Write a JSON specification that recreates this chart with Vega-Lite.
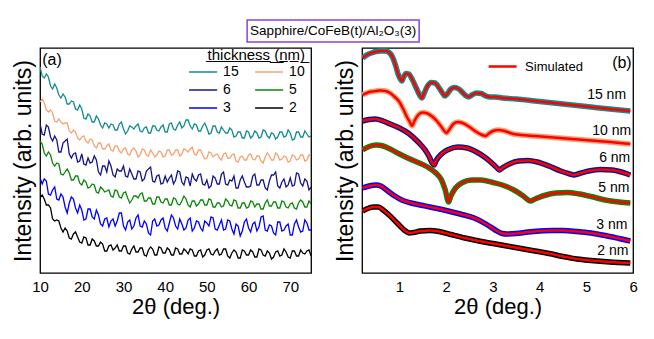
{
  "$schema": "https://vega.github.io/schema/vega-lite/v6.json",
  "padding": {"left": 11, "top": 19, "right": 5, "bottom": 5},
  "config": {
    "font": "Liberation Sans",
    "view": {"stroke": "#000000", "strokeWidth": 1.3},
    "axis": {"grid": false, "domain": false, "ticks": false, "tickSize": 0, "labelFontSize": 15, "labelColor": "#000000", "titleColor": "#000000", "titleFontWeight": "normal", "labelFont": "Liberation Sans", "titleFont": "Liberation Sans"},
    "legend": {"labelFont": "Liberation Sans", "titleFont": "Liberation Sans", "labelColor": "#000000", "titleColor": "#000000"},
    "text": {"font": "Liberation Sans", "color": "#000000"},
    "rule": {"color": "#000000", "strokeWidth": 1}
  },
  "datasets": {
    "xrd": [
      {"x":10,"15":206,"10":171,"6":149,"5":132,"3":95,"2":75},
      {"x":11,"15":195,"10":170,"6":138,"5":120,"3":94,"2":74},
      {"x":12,"15":196,"10":161,"6":146,"5":121,"3":79,"2":68},
      {"x":13,"15":184,"10":160,"6":132,"5":110,"3":83,"2":54},
      {"x":14,"15":185,"10":151,"6":133,"5":110,"3":74,"2":53},
      {"x":15,"15":175,"10":151,"6":121,"5":99,"3":79,"2":45},
      {"x":16,"15":176,"10":150,"6":132,"5":101,"3":66,"2":45},
      {"x":17,"15":169,"10":142,"6":119,"5":100,"3":70,"2":35},
      {"x":18,"15":171,"10":143,"6":119,"5":93,"3":74,"2":39},
      {"x":19,"15":163,"10":135,"6":111,"5":97,"3":60,"2":36},
      {"x":20,"15":164,"10":136,"6":119,"5":88,"3":63,"2":30},
      {"x":21,"15":154,"10":132,"6":108,"5":91,"3":54,"2":35},
      {"x":22,"15":157,"10":134,"6":110,"5":86,"3":64,"2":28},
      {"x":23,"15":151,"10":127,"6":117,"5":88,"3":54,"2":32},
      {"x":24,"15":154,"10":130,"6":101,"5":80,"3":58,"2":27},
      {"x":25,"15":145,"10":124,"6":107,"5":84,"3":47,"2":29},
      {"x":26,"15":149,"10":127,"6":101,"5":82,"3":55,"2":22},
      {"x":27,"15":149,"10":123,"6":107,"5":77,"3":52,"2":28},
      {"x":28,"15":143,"10":127,"6":96,"5":83,"3":47,"2":25},
      {"x":29,"15":149,"10":122,"6":102,"5":76,"3":60,"2":22},
      {"x":30,"15":144,"10":124,"6":107,"5":80,"3":47,"2":27},
      {"x":31,"15":142,"10":119,"6":96,"5":75,"3":51,"2":20},
      {"x":32,"15":146,"10":123,"6":99,"5":73,"3":44,"2":24},
      {"x":33,"15":147,"10":122,"6":94,"5":77,"3":55,"2":21},
      {"x":34,"15":142,"10":118,"6":101,"5":79,"3":47,"2":25},
      {"x":35,"15":145,"10":123,"6":94,"5":72,"3":52,"2":18},
      {"x":36,"15":140,"10":117,"6":104,"5":75,"3":40,"2":23},
      {"x":37,"15":147,"10":120,"6":92,"5":69,"3":52,"2":24},
      {"x":38,"15":143,"10":118,"6":97,"5":76,"3":47,"2":18},
      {"x":39,"15":146,"10":121,"6":89,"5":71,"3":53,"2":25},
      {"x":40,"15":141,"10":117,"6":97,"5":74,"3":45,"2":20},
      {"x":41,"15":149,"10":123,"6":95,"5":68,"3":50,"2":23},
      {"x":42,"15":144,"10":119,"6":89,"5":75,"3":55,"2":18},
      {"x":43,"15":148,"10":123,"6":102,"5":69,"3":44,"2":24},
      {"x":44,"15":145,"10":119,"6":91,"5":72,"3":49,"2":19},
      {"x":45,"15":153,"10":123,"6":96,"5":74,"3":45,"2":22},
      {"x":46,"15":147,"10":124,"6":87,"5":66,"3":55,"2":24},
      {"x":47,"15":149,"10":119,"6":94,"5":72,"3":45,"2":17},
      {"x":48,"15":142,"10":123,"6":98,"5":69,"3":51,"2":22},
      {"x":49,"15":147,"10":118,"6":89,"5":73,"3":42,"2":16},
      {"x":50,"15":145,"10":115,"6":93,"5":68,"3":50,"2":23},
      {"x":51,"15":140,"10":120,"6":87,"5":73,"3":56,"2":19},
      {"x":52,"15":147,"10":118,"6":95,"5":66,"3":44,"2":22},
      {"x":53,"15":140,"10":115,"6":89,"5":70,"3":48,"2":18},
      {"x":54,"15":143,"10":119,"6":101,"5":67,"3":43,"2":24},
      {"x":55,"15":140,"10":115,"6":88,"5":72,"3":53,"2":17},
      {"x":56,"15":143,"10":118,"6":92,"5":67,"3":44,"2":20},
      {"x":57,"15":137,"10":112,"6":85,"5":72,"3":49,"2":21},
      {"x":58,"15":141,"10":116,"6":93,"5":65,"3":37,"2":15},
      {"x":59,"15":135,"10":113,"6":91,"5":70,"3":51,"2":22},
      {"x":60,"15":141,"10":118,"6":86,"5":66,"3":45,"2":18},
      {"x":61,"15":137,"10":114,"6":97,"5":71,"3":49,"2":21},
      {"x":62,"15":140,"10":117,"6":88,"5":69,"3":42,"2":16},
      {"x":63,"15":136,"10":112,"6":93,"5":64,"3":56,"2":23},
      {"x":64,"15":142,"10":116,"6":85,"5":70,"3":43,"2":17},
      {"x":65,"15":135,"10":117,"6":92,"5":67,"3":48,"2":20},
      {"x":66,"15":139,"10":113,"6":98,"5":71,"3":40,"2":16},
      {"x":67,"15":136,"10":118,"6":87,"5":65,"3":51,"2":22},
      {"x":68,"15":141,"10":114,"6":91,"5":72,"3":42,"2":18},
      {"x":69,"15":137,"10":116,"6":86,"5":66,"3":47,"2":21},
      {"x":70,"15":140,"10":112,"6":95,"5":69,"3":38,"2":15},
      {"x":71,"15":134,"10":117,"6":88,"5":65,"3":49,"2":22},
      {"x":72,"15":141,"10":114,"6":99,"5":70,"3":46,"2":17},
      {"x":73,"15":136,"10":118,"6":87,"5":71,"3":42,"2":20},
      {"x":74,"15":139,"10":113,"6":92,"5":66,"3":50,"2":22},
      {"x":75,"15":137,"10":116,"6":86,"5":69,"3":43,"2":17},
      {"x":10.5,"15":197,"10":174,"6":139,"5":129,"3":89,"2":78},
      {"x":11.5,"15":199,"10":163,"6":148,"5":117,"3":92,"2":68},
      {"x":12.5,"15":187,"10":163,"6":136,"5":118,"3":78,"2":65},
      {"x":13.5,"15":189,"10":152,"6":137,"5":107,"3":86,"2":52},
      {"x":14.5,"15":178,"10":154,"6":121,"5":109,"3":73,"2":52},
      {"x":15.5,"15":179,"10":149,"6":130,"5":98,"3":76,"2":41},
      {"x":16.5,"15":169,"10":150,"6":134,"5":104,"3":60,"2":42},
      {"x":17.5,"15":172,"10":140,"6":115,"5":93,"3":76,"2":34},
      {"x":18.5,"15":164,"10":141,"6":120,"5":97,"3":65,"2":41},
      {"x":19.5,"15":168,"10":133,"6":112,"5":90,"3":68,"2":31},
      {"x":20.5,"15":155,"10":137,"6":109,"5":93,"3":53,"2":36},
      {"x":21.5,"15":159,"10":130,"6":115,"5":85,"3":64,"2":28},
      {"x":22.5,"15":151,"10":133,"6":111,"5":89,"3":56,"2":34},
      {"x":23.5,"15":157,"10":125,"6":113,"5":81,"3":63,"2":27},
      {"x":24.5,"15":148,"10":130,"6":98,"5":86,"3":49,"2":31},
      {"x":25.5,"15":150,"10":124,"6":107,"5":81,"3":54,"2":22},
      {"x":26.5,"15":145,"10":129,"6":112,"5":83,"3":46,"2":27},
      {"x":27.5,"15":148,"10":122,"6":98,"5":76,"3":54,"2":23},
      {"x":28.5,"15":143,"10":127,"6":104,"5":82,"3":52,"2":28},
      {"x":29.5,"15":151,"10":120,"6":102,"5":75,"3":60,"2":22},
      {"x":30.5,"15":139,"10":125,"6":97,"5":81,"3":43,"2":27},
      {"x":31.5,"15":147,"10":118,"6":104,"5":70,"3":53,"2":19},
      {"x":32.5,"15":144,"10":125,"6":94,"5":77,"3":47,"2":27},
      {"x":33.5,"15":149,"10":116,"6":102,"5":75,"3":58,"2":21},
      {"x":34.5,"15":141,"10":124,"6":92,"5":80,"3":46,"2":25},
      {"x":35.5,"15":146,"10":118,"6":102,"5":72,"3":49,"2":17},
      {"x":36.5,"15":140,"10":123,"6":106,"5":75,"3":38,"2":26},
      {"x":37.5,"15":147,"10":116,"6":91,"5":69,"3":54,"2":18},
      {"x":38.5,"15":142,"10":122,"6":98,"5":76,"3":48,"2":26},
      {"x":39.5,"15":148,"10":116,"6":90,"5":70,"3":55,"2":20},
      {"x":40.5,"15":141,"10":123,"6":91,"5":74,"3":42,"2":25},
      {"x":41.5,"15":150,"10":118,"6":98,"5":68,"3":58,"2":18},
      {"x":42.5,"15":143,"10":123,"6":93,"5":74,"3":47,"2":25},
      {"x":43.5,"15":151,"10":117,"6":101,"5":68,"3":54,"2":19},
      {"x":44.5,"15":147,"10":124,"6":88,"5":77,"3":43,"2":24},
      {"x":45.5,"15":153,"10":121,"6":95,"5":68,"3":53,"2":19},
      {"x":46.5,"15":144,"10":126,"6":99,"5":72,"3":42,"2":23},
      {"x":47.5,"15":148,"10":118,"6":92,"5":67,"3":52,"2":17},
      {"x":48.5,"15":142,"10":123,"6":99,"5":73,"3":45,"2":23},
      {"x":49.5,"15":150,"10":114,"6":88,"5":68,"3":52,"2":18},
      {"x":50.5,"15":139,"10":121,"6":85,"5":74,"3":47,"2":24},
      {"x":51.5,"15":147,"10":116,"6":97,"5":66,"3":55,"2":18},
      {"x":52.5,"15":141,"10":119,"6":89,"5":70,"3":43,"2":24},
      {"x":53.5,"15":146,"10":113,"6":99,"5":66,"3":53,"2":19},
      {"x":54.5,"15":140,"10":120,"6":89,"5":74,"3":44,"2":24},
      {"x":55.5,"15":145,"10":115,"6":93,"5":68,"3":52,"2":15},
      {"x":56.5,"15":136,"10":119,"6":97,"5":73,"3":39,"2":23},
      {"x":57.5,"15":141,"10":111,"6":85,"5":65,"3":47,"2":15},
      {"x":58.5,"15":135,"10":117,"6":97,"5":70,"3":42,"2":23},
      {"x":59.5,"15":142,"10":113,"6":86,"5":65,"3":54,"2":18},
      {"x":60.5,"15":135,"10":119,"6":87,"5":72,"3":41,"2":23},
      {"x":61.5,"15":142,"10":113,"6":99,"5":66,"3":51,"2":16},
      {"x":62.5,"15":135,"10":117,"6":88,"5":69,"3":46,"2":24},
      {"x":63.5,"15":143,"10":110,"6":93,"5":64,"3":57,"2":18},
      {"x":64.5,"15":137,"10":120,"6":83,"5":73,"3":42,"2":22},
      {"x":65.5,"15":140,"10":113,"6":98,"5":67,"3":47,"2":14},
      {"x":66.5,"15":134,"10":120,"6":101,"5":71,"3":38,"2":21},
      {"x":67.5,"15":141,"10":113,"6":85,"5":65,"3":51,"2":17},
      {"x":68.5,"15":136,"10":117,"6":94,"5":71,"3":43,"2":24},
      {"x":69.5,"15":143,"10":111,"6":88,"5":65,"3":49,"2":16},
      {"x":70.5,"15":133,"10":118,"6":87,"5":70,"3":38,"2":22},
      {"x":71.5,"15":141,"10":113,"6":100,"5":64,"3":53,"2":17},
      {"x":72.5,"15":136,"10":118,"6":90,"5":73,"3":41,"2":23},
      {"x":73.5,"15":142,"10":112,"6":94,"5":66,"3":53,"2":19},
      {"x":74.5,"15":136,"10":118,"6":83,"5":72,"3":43,"2":23}
    ],
    "xrr": [
      {"t":"15","x":0.21,"y":215},{"t":"15","x":0.3,"y":218},{"t":"15","x":0.4,"y":220},{"t":"15","x":0.5,"y":221.5},{"t":"15","x":0.6,"y":222},{"t":"15","x":0.7,"y":222},{"t":"15","x":0.78,"y":220.5},{"t":"15","x":0.85,"y":216},{"t":"15","x":0.92,"y":207},{"t":"15","x":0.97,"y":199},{"t":"15","x":1.02,"y":194},{"t":"15","x":1.05,"y":192},{"t":"15","x":1.09,"y":196},{"t":"15","x":1.14,"y":199.5},{"t":"15","x":1.2,"y":199},{"t":"15","x":1.28,"y":193},{"t":"15","x":1.36,"y":185},{"t":"15","x":1.43,"y":178},{"t":"15","x":1.48,"y":175},{"t":"15","x":1.53,"y":180},{"t":"15","x":1.6,"y":187},{"t":"15","x":1.68,"y":190.5},{"t":"15","x":1.76,"y":190},{"t":"15","x":1.85,"y":185},{"t":"15","x":1.92,"y":180},{"t":"15","x":1.97,"y":177},{"t":"15","x":2.02,"y":179},{"t":"15","x":2.1,"y":184},{"t":"15","x":2.18,"y":185.5},{"t":"15","x":2.27,"y":184},{"t":"15","x":2.36,"y":180},{"t":"15","x":2.43,"y":177},{"t":"15","x":2.48,"y":176},{"t":"15","x":2.55,"y":178},{"t":"15","x":2.65,"y":180},{"t":"15","x":2.75,"y":179.5},{"t":"15","x":2.85,"y":177},{"t":"15","x":2.94,"y":176},{"t":"15","x":3.05,"y":176},{"t":"15","x":3.2,"y":175},{"t":"15","x":3.5,"y":174},{"t":"15","x":3.9,"y":172},{"t":"15","x":4.3,"y":170},{"t":"15","x":4.7,"y":168},{"t":"15","x":5.1,"y":166},{"t":"15","x":5.5,"y":164},{"t":"15","x":5.94,"y":162},
      {"t":"10","x":0.21,"y":178},{"t":"10","x":0.3,"y":180},{"t":"10","x":0.4,"y":181.5},{"t":"10","x":0.5,"y":182},{"t":"10","x":0.6,"y":182.5},{"t":"10","x":0.7,"y":182},{"t":"10","x":0.8,"y":180},{"t":"10","x":0.9,"y":176},{"t":"10","x":1.0,"y":171},{"t":"10","x":1.08,"y":164},{"t":"10","x":1.16,"y":156},{"t":"10","x":1.22,"y":151},{"t":"10","x":1.27,"y":147},{"t":"10","x":1.32,"y":152},{"t":"10","x":1.4,"y":158},{"t":"10","x":1.49,"y":160.5},{"t":"10","x":1.6,"y":159.5},{"t":"10","x":1.7,"y":156.5},{"t":"10","x":1.8,"y":152},{"t":"10","x":1.9,"y":146},{"t":"10","x":1.96,"y":142},{"t":"10","x":2.01,"y":140},{"t":"10","x":2.06,"y":143},{"t":"10","x":2.15,"y":149},{"t":"10","x":2.25,"y":151},{"t":"10","x":2.35,"y":150},{"t":"10","x":2.5,"y":146},{"t":"10","x":2.65,"y":141},{"t":"10","x":2.77,"y":138},{"t":"10","x":2.84,"y":137},{"t":"10","x":2.9,"y":139},{"t":"10","x":3.0,"y":142},{"t":"10","x":3.12,"y":143},{"t":"10","x":3.25,"y":142},{"t":"10","x":3.4,"y":139.5},{"t":"10","x":3.6,"y":138},{"t":"10","x":3.9,"y":137},{"t":"10","x":4.3,"y":135.5},{"t":"10","x":4.7,"y":134},{"t":"10","x":5.1,"y":132.5},{"t":"10","x":5.5,"y":131},{"t":"10","x":5.94,"y":129},
      {"t":"6","x":0.21,"y":152},{"t":"6","x":0.35,"y":153.5},{"t":"6","x":0.48,"y":154},{"t":"6","x":0.65,"y":152},{"t":"6","x":0.8,"y":149},{"t":"6","x":1.0,"y":145},{"t":"6","x":1.2,"y":139.5},{"t":"6","x":1.4,"y":131},{"t":"6","x":1.55,"y":123},{"t":"6","x":1.64,"y":116},{"t":"6","x":1.7,"y":110},{"t":"6","x":1.74,"y":108},{"t":"6","x":1.78,"y":112},{"t":"6","x":1.9,"y":119},{"t":"6","x":2.05,"y":123.5},{"t":"6","x":2.25,"y":126},{"t":"6","x":2.45,"y":125},{"t":"6","x":2.65,"y":121},{"t":"6","x":2.85,"y":115},{"t":"6","x":3.0,"y":109},{"t":"6","x":3.1,"y":104.5},{"t":"6","x":3.14,"y":103},{"t":"6","x":3.2,"y":105},{"t":"6","x":3.35,"y":109},{"t":"6","x":3.55,"y":112},{"t":"6","x":3.75,"y":112.5},{"t":"6","x":3.95,"y":111},{"t":"6","x":4.2,"y":107},{"t":"6","x":4.45,"y":102},{"t":"6","x":4.65,"y":99},{"t":"6","x":4.73,"y":98},{"t":"6","x":4.85,"y":99.5},{"t":"6","x":5.05,"y":102},{"t":"6","x":5.3,"y":103.5},{"t":"6","x":5.55,"y":103},{"t":"6","x":5.75,"y":101},{"t":"6","x":5.94,"y":98},
      {"t":"5","x":0.21,"y":123},{"t":"5","x":0.35,"y":126.5},{"t":"5","x":0.5,"y":128},{"t":"5","x":0.65,"y":127},{"t":"5","x":0.8,"y":124},{"t":"5","x":1.0,"y":119},{"t":"5","x":1.2,"y":114.5},{"t":"5","x":1.4,"y":110.5},{"t":"5","x":1.6,"y":106},{"t":"5","x":1.78,"y":100},{"t":"5","x":1.9,"y":93},{"t":"5","x":1.98,"y":83},{"t":"5","x":2.05,"y":71},{"t":"5","x":2.1,"y":77},{"t":"5","x":2.2,"y":85},{"t":"5","x":2.35,"y":90.5},{"t":"5","x":2.55,"y":93},{"t":"5","x":2.75,"y":93},{"t":"5","x":3.0,"y":90.5},{"t":"5","x":3.2,"y":88},{"t":"5","x":3.45,"y":83},{"t":"5","x":3.65,"y":77},{"t":"5","x":3.8,"y":72},{"t":"5","x":3.9,"y":74},{"t":"5","x":4.1,"y":77.5},{"t":"5","x":4.35,"y":80},{"t":"5","x":4.6,"y":80.5},{"t":"5","x":4.85,"y":79},{"t":"5","x":5.1,"y":76.5},{"t":"5","x":5.4,"y":73},{"t":"5","x":5.7,"y":71},{"t":"5","x":5.94,"y":70},
      {"t":"3","x":0.21,"y":85},{"t":"3","x":0.35,"y":87},{"t":"3","x":0.5,"y":88},{"t":"3","x":0.6,"y":87},{"t":"3","x":0.75,"y":82},{"t":"3","x":0.9,"y":77},{"t":"3","x":1.05,"y":73},{"t":"3","x":1.25,"y":70},{"t":"3","x":1.5,"y":67.5},{"t":"3","x":1.75,"y":65},{"t":"3","x":2.0,"y":62.5},{"t":"3","x":2.3,"y":59},{"t":"3","x":2.6,"y":55},{"t":"3","x":2.85,"y":49},{"t":"3","x":3.05,"y":43},{"t":"3","x":3.2,"y":39.5},{"t":"3","x":3.3,"y":39},{"t":"3","x":3.5,"y":39.5},{"t":"3","x":3.75,"y":41},{"t":"3","x":4.0,"y":42},{"t":"3","x":4.25,"y":42.5},{"t":"3","x":4.5,"y":42.5},{"t":"3","x":4.8,"y":41.5},{"t":"3","x":5.1,"y":40},{"t":"3","x":5.4,"y":37.5},{"t":"3","x":5.7,"y":34.5},{"t":"3","x":5.94,"y":32},
      {"t":"2","x":0.21,"y":62},{"t":"2","x":0.35,"y":65},{"t":"2","x":0.45,"y":66},{"t":"2","x":0.55,"y":66},{"t":"2","x":0.65,"y":63},{"t":"2","x":0.8,"y":57},{"t":"2","x":0.95,"y":50},{"t":"2","x":1.1,"y":43},{"t":"2","x":1.22,"y":40},{"t":"2","x":1.3,"y":40.5},{"t":"2","x":1.45,"y":42},{"t":"2","x":1.65,"y":42.5},{"t":"2","x":1.85,"y":41.5},{"t":"2","x":2.1,"y":38.5},{"t":"2","x":2.4,"y":35},{"t":"2","x":2.7,"y":32},{"t":"2","x":3.0,"y":29.5},{"t":"2","x":3.3,"y":27},{"t":"2","x":3.6,"y":24.5},{"t":"2","x":3.9,"y":22},{"t":"2","x":4.2,"y":19.5},{"t":"2","x":4.5,"y":16.5},{"t":"2","x":4.8,"y":14},{"t":"2","x":5.1,"y":12.5},{"t":"2","x":5.5,"y":11},{"t":"2","x":5.94,"y":10}
    ]
  },
  "spacing": 4,
  "center": true,
  "vconcat": [
    {
      "width": 172,
      "height": 22,
      "view": {"stroke": "#8a3fe0", "strokeWidth": 1.5},
      "data": {"values": [{"title": "Sapphire/CoFeB(t)/Al₂O₃(3)", "v": 0.5}]},
      "mark": {"type": "text", "fontSize": 13.5, "baseline": "middle"},
      "encoding": {
        "text": {"field": "title"},
        "y": {"field": "v", "type": "quantitative", "scale": {"domain": [0, 1]}, "axis": {"orient": "right", "title": ".", "titleColor": "#ffffff", "labels": false, "ticks": false, "domain": false, "titleFontSize": 11, "titlePadding": 0}}
      }
    },
    {
      "spacing": 21,
      "resolve": {"scale": {"color": "independent", "stroke": "independent"}, "legend": {"color": "independent", "stroke": "independent"}},
      "hconcat": [
        {
          "width": 271,
          "height": 225,
          "view": {"stroke": "#000000", "strokeWidth": 1.3},
          "encoding": {
            "x": {"field": "x", "type": "quantitative", "scale": {"domain": [10, 75], "nice": false, "zero": false},
                  "axis": {"values": [10, 20, 30, 40, 50, 60, 70], "labelPadding": 6, "labelFlush": false, "title": "2θ (deg.)", "titleFontSize": 22, "titlePadding": 2}},
            "y": {"field": "y", "type": "quantitative", "scale": {"domain": [0, 225], "nice": false, "zero": false},
                  "axis": {"title": "Intensity (arb. units)", "labels": false, "titleFontSize": 23, "titlePadding": 5}}
          },
          "layer": [
            {
              "data": {"name": "xrd"},
              "transform": [{"fold": ["15", "10", "6", "5", "3", "2"], "as": ["t", "y"]}],
              "mark": {"type": "line", "strokeWidth": 1.3, "clip": true},
              "encoding": {
                "color": {"field": "t", "type": "nominal",
                          "scale": {"domain": ["15", "6", "3", "10", "5", "2"], "range": ["#138c8c", "#15158a", "#0000ff", "#f5a373", "#0a870a", "#000000"]},
                          "legend": {"title": "t\u0332h\u0332i\u0332c\u0332k\u0332n\u0332e\u0332s\u0332s\u0332 \u0332(\u0332n\u0332m\u0332)\u0332", "orient": "none", "legendX": 148, "legendY": 0, "columns": 2, "columnPadding": 13, "rowPadding": 3, "symbolType": "M-1,0H3", "symbolSize": 196, "symbolStrokeWidth": 1.5, "labelFontSize": 14, "labelOffset": 19, "titleFontSize": 15, "titleFontWeight": "normal", "titleAnchor": "end", "titlePadding": 1, "padding": 0,
                                     "labelExpr": "length(datum.label) < 2 ? '\u2007' + datum.label : datum.label"}}
              }
            },
            {
              "data": {"values": [{"x": 10.5, "y": 213, "label": "(a)"}]},
              "mark": {"type": "text", "align": "left", "baseline": "middle", "fontSize": 16},
              "encoding": {"text": {"field": "label"}}
            },
            {
              "data": {"values": [{"x": 10}, {"x": 20}, {"x": 30}, {"x": 40}, {"x": 50}, {"x": 60}, {"x": 70}]},
              "mark": {"type": "rule"},
              "encoding": {"y": {"datum": 0}, "y2": {"datum": 5}}
            },
            {
              "data": {"values": [{"x": 12}, {"x": 14}, {"x": 16}, {"x": 18}, {"x": 22}, {"x": 24}, {"x": 26}, {"x": 28}, {"x": 32}, {"x": 34}, {"x": 36}, {"x": 38}, {"x": 42}, {"x": 44}, {"x": 46}, {"x": 48}, {"x": 52}, {"x": 54}, {"x": 56}, {"x": 58}, {"x": 62}, {"x": 64}, {"x": 66}, {"x": 68}, {"x": 72}, {"x": 74}]},
              "mark": {"type": "rule"},
              "encoding": {"y": {"datum": 0}, "y2": {"datum": 2.5}}
            }
          ]
        },
        {
          "width": 271,
          "height": 225,
          "view": {"stroke": "#000000", "strokeWidth": 1.3},
          "encoding": {
            "x": {"field": "x", "type": "quantitative", "scale": {"domain": [0.2, 6], "nice": false, "zero": false},
                  "axis": {"values": [1, 2, 3, 4, 5, 6], "labelPadding": 6, "labelFlush": false, "title": "2θ (deg.)", "titleFontSize": 22, "titlePadding": 2}},
            "y": {"field": "y", "type": "quantitative", "scale": {"domain": [0, 225], "nice": false, "zero": false},
                  "axis": {"title": "Intensity (arb. units)", "labels": false, "titleFontSize": 23, "titlePadding": 5}}
          },
          "layer": [
            {
              "data": {"name": "xrr"},
              "mark": {"type": "line", "strokeWidth": 5.5, "interpolate": "monotone", "clip": true},
              "encoding": {
                "color": {"field": "t", "type": "nominal",
                          "scale": {"domain": ["15", "10", "6", "5", "3", "2"], "range": ["#138c8c", "#f5a373", "#15158a", "#0a870a", "#0000ff", "#000000"]},
                          "legend": null}
              }
            },
            {
              "data": {"name": "xrr"},
              "mark": {"type": "line", "strokeWidth": 2.5, "interpolate": "monotone", "clip": true},
              "encoding": {
                "detail": {"field": "t", "type": "nominal"},
                "stroke": {"datum": "Simulated", "type": "nominal", "scale": {"range": ["#ff0000"]},
                           "legend": {"title": null, "orient": "none", "legendX": 125, "legendY": 10, "symbolType": "M-1,0H3", "symbolSize": 196, "symbolStrokeWidth": 2.5, "labelFontSize": 13, "labelOffset": 21, "padding": 0}}
              }
            },
            {
              "data": {"values": [
                {"x": 5.85, "y": 178, "label": "15 nm"},
                {"x": 5.96, "y": 142, "label": "10 nm"},
                {"x": 5.94, "y": 115, "label": "6 nm"},
                {"x": 5.92, "y": 85, "label": "5 nm"},
                {"x": 5.88, "y": 48, "label": "3 nm"},
                {"x": 5.9, "y": 22, "label": "2 nm"}
              ]},
              "mark": {"type": "text", "align": "right", "baseline": "middle", "fontSize": 14},
              "encoding": {"text": {"field": "label"}}
            },
            {
              "data": {"values": [{"x": 5.97, "y": 210, "label": "(b)"}]},
              "mark": {"type": "text", "align": "right", "baseline": "middle", "fontSize": 16},
              "encoding": {"text": {"field": "label"}}
            },
            {
              "data": {"values": [{"x": 1}, {"x": 2}, {"x": 3}, {"x": 4}, {"x": 5}, {"x": 6}]},
              "mark": {"type": "rule"},
              "encoding": {"y": {"datum": 0}, "y2": {"datum": 5}}
            },
            {
              "data": {"values": [{"x": 0.2}, {"x": 0.4}, {"x": 0.6}, {"x": 0.8}, {"x": 1.2}, {"x": 1.4}, {"x": 1.6}, {"x": 1.8}, {"x": 2.2}, {"x": 2.4}, {"x": 2.6}, {"x": 2.8}, {"x": 3.2}, {"x": 3.4}, {"x": 3.6}, {"x": 3.8}, {"x": 4.2}, {"x": 4.4}, {"x": 4.6}, {"x": 4.8}, {"x": 5.2}, {"x": 5.4}, {"x": 5.6}, {"x": 5.8}]},
              "mark": {"type": "rule"},
              "encoding": {"y": {"datum": 0}, "y2": {"datum": 2.5}}
            }
          ]
        }
      ]
    }
  ]
}
